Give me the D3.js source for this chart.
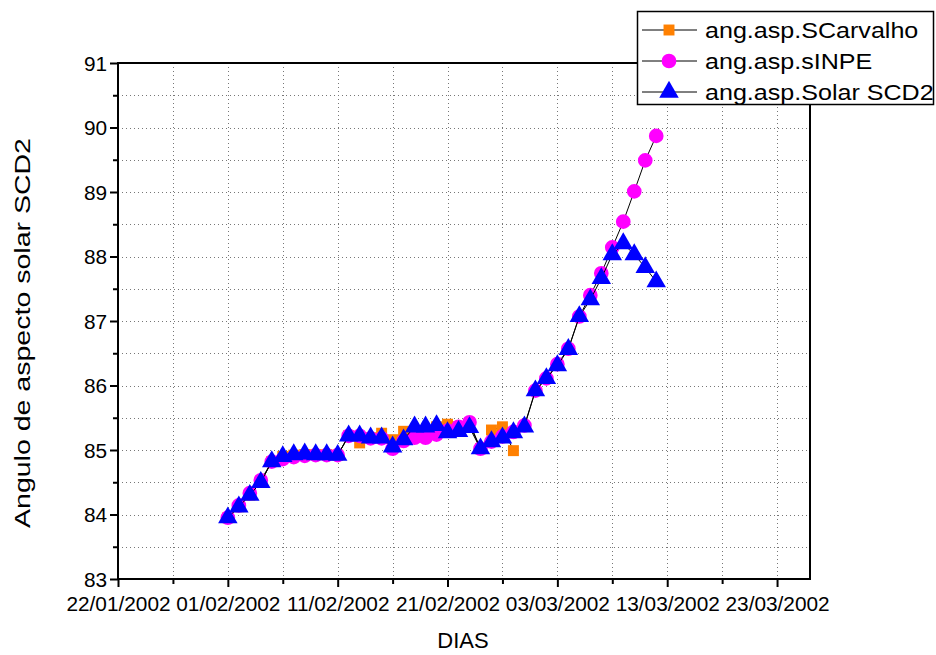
<!DOCTYPE html>
<html><head><meta charset="utf-8">
<script src="https://cdn.jsdelivr.net/npm/d3@7"></script>
<style>body{margin:0;background:#fff}svg{display:block}text{font-family:"Liberation Sans",Arial,sans-serif}</style>
</head><body>
<svg id="c" width="936" height="655"></svg>
<script>
const startDate = "2002-02-01";
const seriesNames = ["ang.asp.SCarvalho", "ang.asp.sINPE", "ang.asp.Solar SCD2"];
const xTickLabels = ["22/01/2002","01/02/2002","11/02/2002","21/02/2002","03/03/2002","13/03/2002","23/03/2002"];
const yTicks = [83,84,85,86,87,88,89,90,91];
const scarvalho = [83.95,84.12,84.30,84.50,84.82,84.90,84.92,84.93,84.93,84.93,84.92,85.22,85.11,85.19,85.26,85.16,85.29,85.30,85.30,85.36,85.40,85.36,85.40,85.02,85.31,85.36,84.99];
const sinpe = [83.95,84.14,84.33,84.53,84.82,84.86,84.89,84.91,84.92,84.92,84.92,85.22,85.22,85.18,85.18,85.02,85.14,85.19,85.19,85.24,85.30,85.36,85.43,85.02,85.13,85.21,85.28,85.38,85.92,86.11,86.33,86.57,87.07,87.40,87.74,88.14,88.54,89.01,89.49,89.87];
const scd2 = [83.95,84.12,84.30,84.50,84.82,84.90,84.93,84.94,84.93,84.93,84.92,85.22,85.22,85.19,85.19,85.05,85.16,85.36,85.36,85.38,85.27,85.29,85.35,85.02,85.13,85.19,85.27,85.36,85.92,86.11,86.31,86.56,87.07,87.33,87.66,88.03,88.20,88.03,87.83,87.61];

const parse = d3.timeParse("%Y-%m-%d");
const fmt = d3.timeFormat("%d/%m/%Y");
const d0 = parse(startDate);
const dayOf = i => d3.timeDay.offset(d0, i);
const toPts = arr => arr.map((v,i)=>({date:dayOf(i), v}));

const L=118, R=810, T=63, B=579;
const svg = d3.select("#c");
const x = d3.scaleTime().domain([parse("2002-01-22"), parse("2002-03-26")]).range([L,R]);
const y = d3.scaleLinear().domain([83,91]).range([B,T]);

const majorDates = xTickLabels.map(s=>d3.timeParse("%d/%m/%Y")(s));
const minorDates = majorDates.map(d=>d3.timeDay.offset(d,5)).filter(d=>x(d)<R);
const minorY = d3.range(83.5,91,1);

const stretch = (sel, k) => sel.each(function(){ const w=this.getComputedTextLength(); d3.select(this).attr("textLength", w*k).attr("lengthAdjust","spacingAndGlyphs"); });

// grid
const g = svg.append("g").attr("stroke","#777").attr("stroke-width",1).attr("stroke-dasharray","1,3");
majorDates.concat(minorDates).forEach(d=>{ if(x(d)>L+1 && x(d)<R-1) g.append("line").attr("x1",Math.round(x(d))+0.5).attr("x2",Math.round(x(d))+0.5).attr("y1",T).attr("y2",B);});
yTicks.concat(minorY).forEach(v=>{ if(y(v)>T+1 && y(v)<B-1) g.append("line").attr("y1",Math.round(y(v))+0.5).attr("y2",Math.round(y(v))+0.5).attr("x1",L).attr("x2",R);});

// axes
const xAxis = d3.axisBottom(x).tickValues(majorDates).tickFormat(fmt).tickSize(8).tickSizeOuter(0);
const ax = svg.append("g").attr("transform",`translate(0,${B})`).call(xAxis);
ax.selectAll(".tick line").attr("stroke-width",2);
ax.select(".domain").remove();
ax.selectAll("text").attr("font-size",20).attr("dy","1.05em").attr("fill","#000").call(stretch,1.04);
const xMinor = d3.axisBottom(x).tickValues(minorDates).tickFormat("").tickSize(5).tickSizeOuter(0);
svg.append("g").attr("transform",`translate(0,${B})`).call(xMinor).call(s=>{s.select(".domain").remove();s.selectAll("line").attr("stroke-width",2);});

const yAxis = d3.axisLeft(y).tickValues(yTicks).tickFormat(d3.format("d")).tickSize(8).tickSizeOuter(0);
const ay = svg.append("g").attr("transform",`translate(${L},0)`).call(yAxis);
ay.select(".domain").remove();
ay.selectAll(".tick line").attr("stroke-width",2);
ay.selectAll("text").attr("font-size",20).attr("x",-11).attr("dy","0.36em").attr("fill","#000").call(stretch,1.04);
svg.append("g").attr("transform",`translate(${L},0)`).call(d3.axisLeft(y).tickValues(minorY).tickFormat("").tickSize(5).tickSizeOuter(0)).call(s=>{s.select(".domain").remove();s.selectAll("line").attr("stroke-width",2);});

svg.append("rect").attr("x",L).attr("y",T).attr("width",R-L).attr("height",B-T).attr("fill","none").attr("stroke","#000").attr("stroke-width",2);

// labels
svg.append("text").attr("x",463).attr("y",648).attr("text-anchor","middle").attr("font-size",22).text("DIAS");
svg.append("text").attr("transform",`translate(30,333) rotate(-90)`).attr("text-anchor","middle").attr("font-size",22)
  .attr("textLength",390).attr("lengthAdjust","spacingAndGlyphs").text("Angulo de aspecto solar SCD2");

// series
const line = d3.line().x(d=>x(d.date)).y(d=>y(d.v));
const sq = d3.symbol().type(d3.symbolSquare).size(120);
const ci = d3.symbol().type(d3.symbolCircle).size(170);
const tr = d3.symbol().type(d3.symbolTriangle).size(165);
const series = [
  {data:toPts(scarvalho), color:"#FF8000", sym:sq},
  {data:toPts(sinpe), color:"#FF00FF", sym:ci},
  {data:toPts(scd2), color:"#0000FF", sym:tr}
];
series.forEach(s=>{
  svg.append("path").datum(s.data).attr("d",line).attr("fill","none").attr("stroke","#000").attr("stroke-width",1);
  svg.append("g").selectAll("path").data(s.data).join("path")
    .attr("transform",d=>`translate(${x(d.date)},${y(d.v)})`).attr("d",s.sym()).attr("fill",s.color);
});

// legend
const lg = svg.append("g");
lg.append("rect").attr("x",637.5).attr("y",11.5).attr("width",296).attr("height",93).attr("fill","#fff").attr("stroke","#000").attr("stroke-width",1.5);
series.forEach((s,i)=>{
  const yy = 30 + i*31;
  lg.append("line").attr("x1",642).attr("x2",697).attr("y1",yy).attr("y2",yy).attr("stroke","#000").attr("stroke-width",1);
  lg.append("path").attr("transform",`translate(669,${yy})`).attr("d",s.sym()).attr("fill",s.color);
  lg.append("text").attr("x",705).attr("y",yy+8).attr("font-size",22).text(seriesNames[i]).call(stretch,1.14);
});
</script>
</body></html>
